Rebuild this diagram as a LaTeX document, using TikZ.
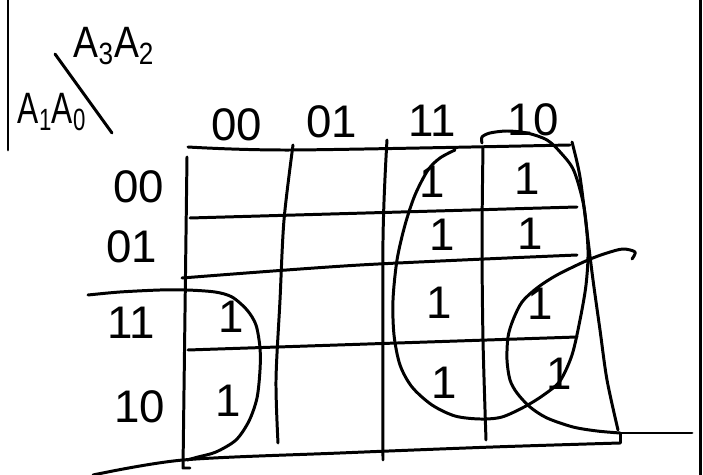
\documentclass[tikz,border=0pt]{standalone}
\usepackage{fontspec}
\setmainfont{Liberation Sans}

\begin{document}
\begin{tikzpicture}[
    x=0.02cm, y=-0.02cm,
    pen/.style={line width=1.7pt, line cap=round, line join=round},
    var/.style={font=\fontsize{25}{26}\selectfont, inner sep=0pt, xscale=0.85},
    lbl/.style={font=\fontsize{26}{28}\selectfont, inner sep=0pt},
    one/.style={font=\fontsize{26}{28}\selectfont, inner sep=0pt}
  ]
  \useasboundingbox (0,0) rectangle (703,475);

  % --- frame edges ---
  \draw[pen] (8,0) -- (8,150);
  \draw[pen] (700,0) -- (700,475);

  % --- corner: variables ---
  \draw[pen] (55,54) -- (112,133);
  \node[var] (colvar) at (114,46) {A\textsubscript{3}A\textsubscript{2}};
  \node[var, xscale=0.85] (rowvar) at (52,112) {A\textsubscript{1}A\textsubscript{0}};

  % --- column labels ---
  \node[lbl] (c00) at (237,125) {00};
  \node[lbl] (c01) at (332,122) {01};
  \node[lbl] (c11) at (432,121) {11};
  \node[lbl] (c10) at (533,120) {10};

  % --- row labels ---
  \node[lbl] (r00) at (139,187) {00};
  \node[lbl] (r01) at (132,247) {01};
  \node[lbl] (r11) at (131,323) {11};
  \node[lbl] (r10) at (140,407) {10};

  % --- grid ---
  \draw[pen] plot[smooth] coordinates {(188,147) (293,150) (570,145)};
  \draw[pen] (187,157) -- (183,468) -- (190,468);
  \draw[pen] plot[smooth] coordinates {(293,145) (284,220) (280,300) (276,380) (278,443)};
  \draw[pen] plot[smooth] coordinates {(387,140) (383,240) (383,460)};
  \draw[pen] plot[smooth] coordinates {(483,147) (482,240) (483,340) (486,440)};
  \draw[pen] (190,218) -- (577,207);
  \draw[pen] plot[smooth] coordinates {(182,278) (360,265) (577,255)};
  \draw[pen] (188,350) -- (577,337);
  \draw[pen] plot[smooth] coordinates {(93,475) (183,460) (340,453) (493,447) (620,443)};
  \draw[pen] (620,443) -- (620,433) -- (692,433);
  \draw[pen] plot[smooth] coordinates {(572,142) (580,177) (588,240) (593,280)
    (600,330) (607,380) (618,430)};

  % --- cell entries ---
  \node[one] (e0) at (432,182) {1};
  \node[one] (e1) at (527,179) {1};
  \node[one] (e2) at (442,235) {1};
  \node[one] (e3) at (530,234) {1};
  \node[one] (e4) at (231,317) {1};
  \node[one] (e5) at (439,303) {1};
  \node[one] (e6) at (540,304) {1};
  \node[one] (e7) at (228,401) {1};
  \node[one] (e8) at (444,383) {1};
  \node[one] (e9) at (559,374) {1};

  % --- groups ---
  \draw[pen] plot[smooth] coordinates {(88,295) (120,292) (160,290) (187,290)
    (215,292) (232,297) (247,310) (256,325) (260,348) (260,370) (257,398)
    (249,421) (236,440) (216,452) (198,457) (187,460)};
  \draw[pen] plot[smooth] coordinates {(455,150) (440,158) (428,170) (415,195)
    (405,225) (397,260) (393,300) (394,335) (400,365) (412,387) (432,405)
    (455,416) (480,419) (502,417) (526,406) (545,394) (560,381) (572,355)
    (580,320) (586,285) (588,250) (584,207) (574,171) (561,153) (547,140)
    (527,133) (507,131) (490,133) (482,137) (482,143)};
  \draw[pen] plot[smooth] coordinates {(632,259) (635,252) (623,249) (607,253)
    (588,260) (557,275) (537,288) (522,302) (513,320) (508,337) (507,360)
    (510,380) (517,393) (530,407) (547,418) (573,427) (597,431) (620,433)};

\end{tikzpicture}
\end{document}
